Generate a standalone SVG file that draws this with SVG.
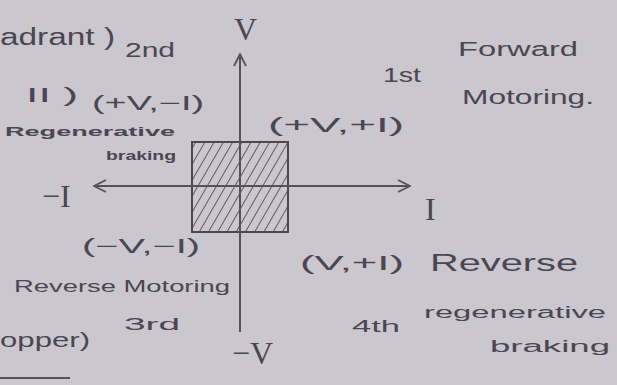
<svg xmlns="http://www.w3.org/2000/svg" width="617" height="385" viewBox="0 0 617 385">
<style>
text{font-family:"Liberation Sans","DejaVu Sans",sans-serif;fill:#4a4652}
.b{font-size:23px}
.m{font-size:20px}
.s{font-size:16px}
.t{font-size:12px;font-weight:bold}
.g{font-family:"Liberation Serif","DejaVu Serif",serif;font-size:32px}
.ax{stroke:#55515c;stroke-width:2;fill:none}
</style>
<defs>
<pattern id="hatch" patternUnits="userSpaceOnUse" width="8" height="8" patternTransform="rotate(30)">
<line x1="0" y1="0" x2="0" y2="8" stroke="#4a4652" stroke-width="1.7"/>
</pattern>
<marker id="ah" viewBox="0 0 14 14" refX="13" refY="7" markerWidth="14" markerHeight="14" markerUnits="userSpaceOnUse" orient="auto">
<path d="M1,1 L13,7 L1,13" fill="none" stroke="#55515c" stroke-width="1.8"/>
</marker>
</defs>
<rect width="617" height="385" fill="#cbc7ce"/>
<g id="box">
<rect x="192" y="142" width="96" height="90" fill="url(#hatch)" stroke="#4a4652" stroke-width="2"/>
</g>
<g id="connectors">
<line class="ax" x1="240" y1="332" x2="240" y2="54" marker-end="url(#ah)"/>
<line class="ax" x1="240" y1="186" x2="94" y2="186" marker-end="url(#ah)"/>
<line class="ax" x1="240" y1="186" x2="410" y2="186" marker-end="url(#ah)"/>
<line class="ax" x1="0" y1="378" x2="70" y2="378"/>
</g>
<g id="q2">
<text class="b" x="0" y="45" textLength="115" lengthAdjust="spacingAndGlyphs">adrant )</text>
<text class="m" x="125" y="57" textLength="50" lengthAdjust="spacingAndGlyphs">2nd</text>
<text class="m" x="26" y="102" textLength="52" lengthAdjust="spacingAndGlyphs">II )</text>
<text class="m" x="92" y="110" textLength="112" lengthAdjust="spacingAndGlyphs">(+V,−I)</text>
<text class="t" x="5" y="136" textLength="170" lengthAdjust="spacingAndGlyphs">Regenerative</text>
<text class="t" x="106" y="160" textLength="70" lengthAdjust="spacingAndGlyphs">braking</text>
<text class="g" x="42" y="207">−I</text>
</g>
<g id="q1">
<text class="g" x="234" y="40">V</text>
<text class="m" x="268" y="132" textLength="136" lengthAdjust="spacingAndGlyphs">(+V,+I)</text>
<text class="m" x="383" y="82" textLength="38" lengthAdjust="spacingAndGlyphs">1st</text>
<text class="m" x="458" y="56" textLength="120" lengthAdjust="spacingAndGlyphs">Forward</text>
<text class="m" x="462" y="104" textLength="132" lengthAdjust="spacingAndGlyphs">Motoring.</text>
<text class="g" x="425" y="220">I</text>
</g>
<g id="q3">
<text class="m" x="82" y="253" textLength="118" lengthAdjust="spacingAndGlyphs">(−V,−I)</text>
<text class="s" x="14" y="292" textLength="216" lengthAdjust="spacingAndGlyphs">Reverse Motoring</text>
<text class="s" x="124" y="330" textLength="56" lengthAdjust="spacingAndGlyphs">3rd</text>
<text class="m" x="0" y="347" textLength="90" lengthAdjust="spacingAndGlyphs">opper)</text>
<text class="g" x="232" y="364">−V</text>
</g>
<g id="q4">
<text class="m" x="300" y="270" textLength="104" lengthAdjust="spacingAndGlyphs">(V,+I)</text>
<text class="b" x="430" y="271" textLength="148" lengthAdjust="spacingAndGlyphs">Reverse</text>
<text class="s" x="352" y="332" textLength="48" lengthAdjust="spacingAndGlyphs">4th</text>
<text class="s" x="424" y="318" textLength="182" lengthAdjust="spacingAndGlyphs">regenerative</text>
<text class="s" x="490" y="352" textLength="120" lengthAdjust="spacingAndGlyphs">braking</text>
</g>
</svg>
